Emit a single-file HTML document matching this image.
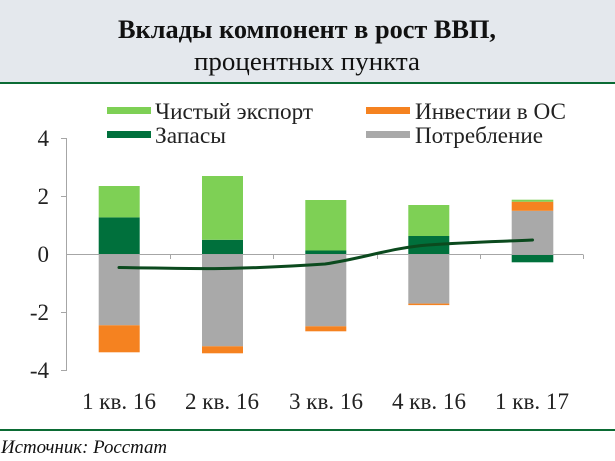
<!DOCTYPE html>
<html><head><meta charset="utf-8"><style>
html,body{margin:0;padding:0;background:#fff}
svg{display:block}
</style></head><body>
<svg width="615" height="461" xmlns="http://www.w3.org/2000/svg" font-family="'Liberation Serif', serif">
<rect x="0" y="0" width="615" height="82" fill="#e4e8ed"/>
<rect x="0" y="82" width="615" height="2" fill="#0b6b34"/>
<text x="307" y="38" text-anchor="middle" font-size="26" font-weight="bold" fill="#111" textLength="378" lengthAdjust="spacingAndGlyphs">Вклады компонент в рост ВВП,</text>
<text x="307" y="70" text-anchor="middle" font-size="26" fill="#111" textLength="226" lengthAdjust="spacingAndGlyphs">процентных пункта</text>
<!-- legend -->
<rect x="107" y="107" width="44" height="7" fill="#7ed055"/>
<text x="155" y="119" font-size="23" fill="#222" textLength="158" lengthAdjust="spacingAndGlyphs">Чистый экспорт</text>
<rect x="107" y="131" width="44" height="7" fill="#00703c"/>
<text x="155" y="143" font-size="23" fill="#222" textLength="71" lengthAdjust="spacingAndGlyphs">Запасы</text>
<rect x="366" y="107" width="44" height="7" fill="#f58220"/>
<text x="415" y="119" font-size="23" fill="#222" textLength="151" lengthAdjust="spacingAndGlyphs">Инвестии в ОС</text>
<rect x="366" y="131" width="44" height="7" fill="#a9a9a9"/>
<text x="415" y="143" font-size="23" fill="#222" textLength="128" lengthAdjust="spacingAndGlyphs">Потребление</text>
<!-- y axis -->
<g stroke="#a6a6a6" stroke-width="1" fill="none">
<line x1="66.5" y1="138" x2="66.5" y2="371"/>
<line x1="61" y1="138.5" x2="66.5" y2="138.5"/>
<line x1="61" y1="196.5" x2="66.5" y2="196.5"/>
<line x1="61" y1="312.5" x2="66.5" y2="312.5"/>
<line x1="61" y1="370.5" x2="66.5" y2="370.5"/>
</g>
<g font-size="23" fill="#222" text-anchor="end">
<text x="49" y="146">4</text>
<text x="49" y="204">2</text>
<text x="49" y="262">0</text>
<text x="49" y="320">-2</text>
<text x="49" y="378">-4</text>
</g>
<g>
<rect x="98.7" y="217.4" width="41" height="36.9" fill="#00703c"/>
<rect x="98.7" y="186" width="41" height="31.4" fill="#7ed055"/>
<rect x="98.7" y="254.3" width="41" height="71" fill="#a9a9a9"/>
<rect x="98.7" y="325.3" width="41" height="27" fill="#f58220"/>
<rect x="202" y="239.8" width="41" height="14.5" fill="#00703c"/>
<rect x="202" y="176" width="41" height="63.8" fill="#7ed055"/>
<rect x="202" y="254.3" width="41" height="92" fill="#a9a9a9"/>
<rect x="202" y="346.3" width="41" height="7" fill="#f58220"/>
<rect x="305.3" y="250.5" width="41" height="3.8" fill="#00703c"/>
<rect x="305.3" y="200" width="41" height="50.5" fill="#7ed055"/>
<rect x="305.3" y="254.3" width="41" height="72" fill="#a9a9a9"/>
<rect x="305.3" y="326.3" width="41" height="5" fill="#f58220"/>
<rect x="408.3" y="236" width="41" height="18.3" fill="#00703c"/>
<rect x="408.3" y="205" width="41" height="31" fill="#7ed055"/>
<rect x="408.3" y="254.3" width="41" height="49.3" fill="#a9a9a9"/>
<rect x="408.3" y="303.6" width="41" height="1.5" fill="#f58220"/>
<rect x="511.7" y="210.8" width="41.6" height="43.5" fill="#a9a9a9"/>
<rect x="511.7" y="201.7" width="41.6" height="9.1" fill="#f58220"/>
<rect x="511.7" y="199.7" width="41.6" height="2" fill="#7ed055"/>
<rect x="511.7" y="254.3" width="41.6" height="8" fill="#00703c"/>
</g>
<g stroke="#a6a6a6" stroke-width="1">
<line x1="66.5" y1="254.5" x2="583" y2="254.5"/>
<line x1="170.5" y1="254.5" x2="170.5" y2="259"/>
<line x1="273.5" y1="254.5" x2="273.5" y2="259"/>
<line x1="377.5" y1="254.5" x2="377.5" y2="259"/>
<line x1="480.5" y1="254.5" x2="480.5" y2="259"/>
<line x1="583.5" y1="254.5" x2="583.5" y2="259"/>
</g>
<path d="M119,267.5 C160,268 190,269 222,268.5 C260,268 295,266 325,264 C365,258 390,248 428,245 C470,242 500,241.5 532.5,240" fill="none" stroke="#0b4a1e" stroke-width="3" stroke-linecap="round"/>
<g font-size="23" fill="#222" text-anchor="middle">
<text x="119" y="409" textLength="74" lengthAdjust="spacingAndGlyphs">1 кв. 16</text>
<text x="222" y="409" textLength="74" lengthAdjust="spacingAndGlyphs">2 кв. 16</text>
<text x="326" y="409" textLength="74" lengthAdjust="spacingAndGlyphs">3 кв. 16</text>
<text x="429" y="409" textLength="74" lengthAdjust="spacingAndGlyphs">4 кв. 16</text>
<text x="532" y="409" textLength="74" lengthAdjust="spacingAndGlyphs">1 кв. 17</text>
</g>
<rect x="0" y="429" width="615" height="2" fill="#0b6b34"/>
<text x="1" y="453" font-size="19" font-style="italic" fill="#111" textLength="166" lengthAdjust="spacingAndGlyphs">Источник: Росстат</text>
</svg>
</body></html>
